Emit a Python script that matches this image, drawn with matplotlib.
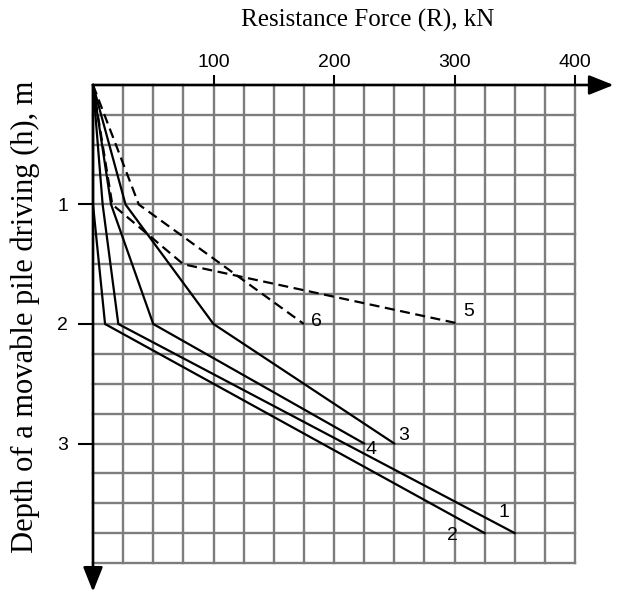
import numpy as np
import matplotlib.pyplot as plt

# curve vertices: resistance force R (kN) versus depth h (m)
r1 = [0, 8, 21, 350]
h1 = [0, 1, 2, 3.75]
r2 = [0, 0, 10, 325]
h2 = [0, 1, 2, 3.75]
r3 = [0, 27, 100, 250]
h3 = [0, 1, 2, 3]
r4 = [0, 15, 50, 225]
h4 = [0, 1, 2, 3]
r5 = [0, 16, 75, 305]
h5 = [0, 1, 1.5, 2]
r6 = [0, 38, 175]
h6 = [0, 1, 2]

curve_names = ['1', '2', '3', '4', '5', '6']
x_ticks = [100, 200, 300, 400]
y_ticks = [1, 2, 3]

fig = plt.figure(figsize=(6.27, 5.92), dpi=100)
ax = fig.add_axes([93 / 627, 1 - 563 / 592, 482 / 627, 478 / 592])
ax.set_xlim(0, 400)
ax.set_ylim(4, 0)
for s in ax.spines.values():
    s.set_visible(False)

# square grid, 25 kN x 0.25 m
for gx in np.arange(25, 401, 25):
    ax.plot([gx, gx], [0, 4], color='#7d7d7d', lw=1.7, clip_on=False, zorder=1)
for gy in np.arange(0.25, 4.01, 0.25):
    ax.plot([0, 400], [gy, gy], color='#7d7d7d', lw=1.7, clip_on=False, zorder=1)

# axes drawn as arrows
arrow = dict(arrowstyle='-|>,head_length=0.75,head_width=0.3', mutation_scale=20,
             color='black', lw=1.9, shrinkA=0, shrinkB=0)
ax.annotate('', xy=(432, 0), xytext=(0, 0), arrowprops=arrow, annotation_clip=False, zorder=5)
ax.annotate('', xy=(0, 4.24), xytext=(0, 0), arrowprops=arrow, annotation_clip=False, zorder=5)

ax.xaxis.tick_top()
ax.set_xticks(x_ticks)
ax.set_xticklabels([str(v) for v in x_ticks])
ax.set_yticks(y_ticks)
ax.set_yticklabels([str(v) for v in y_ticks])
ax.tick_params(axis='x', length=7, width=1.5, pad=3, labelsize=14, color='black')
ax.tick_params(axis='y', length=11, width=1.5, pad=7, labelsize=14, color='black')
for lab in ax.get_xticklabels() + ax.get_yticklabels():
    lab.set_family('Liberation Sans')

curves = [(r1, h1, '-'), (r2, h2, '-'), (r3, h3, '-'), (r4, h4, '-'), (r5, h5, '--'), (r6, h6, '--')]
offsets = [(-8, 15), (-23, -2), (7, 6), (5, -4), (6, 9), (9, 2)]
for (r, h, ls), name, off in zip(curves, curve_names, offsets):
    ax.plot(r, h, color='black', lw=1.6, ls=ls, dashes=(4.5, 2.5) if ls == '--' else (None, None),
            zorder=3, clip_on=False)
    ax.annotate(name, xy=(r[-1], h[-1]), xytext=off, textcoords='offset points',
                ha='center', va='center', fontsize=14, family='Liberation Sans')

fig.text(368 / 627, 1 - 20 / 592, 'Resistance Force (R), kN', ha='center', va='center',
         fontsize=18, family='Liberation Serif')
fig.text(25 / 627, 1 - 317 / 592, 'Depth of a movable pile driving (h), m', ha='center',
         va='center', rotation=90, fontsize=22, family='Liberation Serif')

fig.savefig('out.png', dpi=100)
